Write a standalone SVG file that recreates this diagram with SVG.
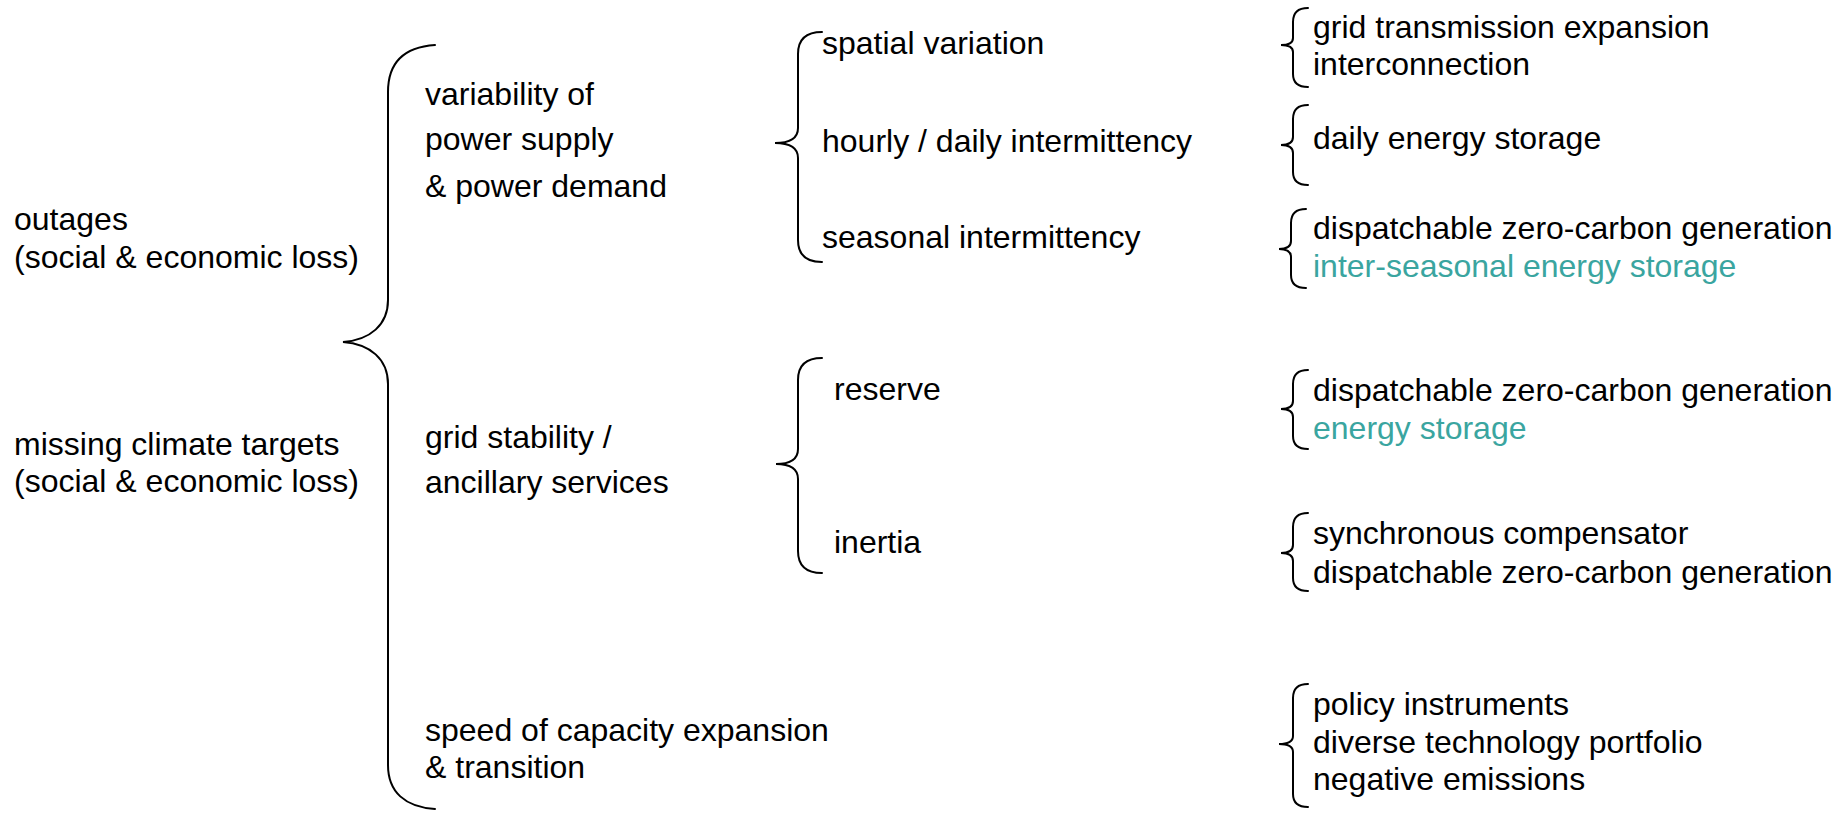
<svg xmlns="http://www.w3.org/2000/svg" width="1847" height="814" viewBox="0 0 1847 814">
  <style>
    text { font-family: "Liberation Sans", Arial, sans-serif; font-size: 32px; fill: #000; }
    .teal { fill: #3aa5a0; }
    .brace { fill: none; stroke: #000; stroke-width: 2; stroke-linecap: round; }
  </style>
  <rect width="1847" height="814" fill="#fff"/>

  <!-- curly braces linking each level to the next -->
  <g id="connectors">
    <path class="brace" d="M435,45 C405,47 388,62 388,92 L388,300 C388,325 370,340 343,342 C370,344 388,359 388,384 L388,765 C388,792 405,807 435,809"/>
    <path class="brace" d="M822,32 C806,32 798,39 798,54 L798,128 C798,138 790,143 775,143 C790,143 798,148 798,158 L798,240 C798,255 806,262 822,262"/>
    <path class="brace" d="M822,358 C806,358 798,365 798,380 L798,449 C798,459 790,464 776,464 C790,464 798,469 798,479 L798,551 C798,566 806,573 822,573"/>
    <path class="brace" d="M1308,8 C1298,8 1293,13 1293,22 L1293,38 C1293,43 1289,45 1281,45 C1289,45 1293,47 1293,52 L1293,74 C1293,83 1298,87 1308,87"/>
    <path class="brace" d="M1308,105 C1298,105 1293,110 1293,119 L1293,137 C1293,142 1289,145 1281,145 C1289,145 1293,148 1293,153 L1293,172 C1293,181 1298,185 1308,185"/>
    <path class="brace" d="M1306,209 C1296,209 1291,214 1291,223 L1291,241 C1291,246 1287,249 1279,249 C1287,249 1291,252 1291,257 L1291,275 C1291,284 1296,288 1306,288"/>
    <path class="brace" d="M1308,370 C1298,370 1293,375 1293,384 L1293,401 C1293,406 1289,409 1281,409 C1289,409 1293,412 1293,417 L1293,436 C1293,445 1298,449 1308,449"/>
    <path class="brace" d="M1308,513 C1298,513 1293,518 1293,527 L1293,545 C1293,550 1289,553 1281,553 C1289,553 1293,556 1293,561 L1293,578 C1293,587 1298,591 1308,591"/>
    <path class="brace" d="M1308,684 C1298,684 1293,689 1293,698 L1293,736 C1293,741 1289,744 1279,744 C1289,744 1293,747 1293,752 L1293,794 C1293,803 1298,807 1308,807"/>
  </g>

  <!-- consequences -->
  <g id="node-outages">
    <text x="14" y="230">outages</text>
    <text x="14" y="268">(social &amp; economic loss)</text>
  </g>
  <g id="node-climate">
    <text x="14" y="455">missing climate targets</text>
    <text x="14" y="492">(social &amp; economic loss)</text>
  </g>

  <!-- challenges -->
  <g id="node-variability">
    <text x="425" y="105">variability of</text>
    <text x="425" y="150">power supply</text>
    <text x="425" y="197">&amp; power demand</text>
  </g>
  <g id="node-stability">
    <text x="425" y="448">grid stability /</text>
    <text x="425" y="493">ancillary services</text>
  </g>
  <g id="node-speed">
    <text x="425" y="741">speed of capacity expansion</text>
    <text x="425" y="778">&amp; transition</text>
  </g>

  <!-- aspects -->
  <g id="node-spatial"><text x="822" y="54">spatial variation</text></g>
  <g id="node-hourly"><text x="822" y="152">hourly / daily intermittency</text></g>
  <g id="node-seasonal"><text x="822" y="248">seasonal intermittency</text></g>
  <g id="node-reserve"><text x="834" y="400">reserve</text></g>
  <g id="node-inertia"><text x="834" y="553">inertia</text></g>

  <!-- solutions -->
  <g id="sol-spatial">
    <text x="1313" y="38">grid transmission expansion</text>
    <text x="1313" y="75">interconnection</text>
  </g>
  <g id="sol-hourly">
    <text x="1313" y="149">daily energy storage</text>
  </g>
  <g id="sol-seasonal">
    <text x="1313" y="239">dispatchable zero-carbon generation</text>
    <text class="teal" x="1313" y="277">inter-seasonal energy storage</text>
  </g>
  <g id="sol-reserve">
    <text x="1313" y="401">dispatchable zero-carbon generation</text>
    <text class="teal" x="1313" y="439">energy storage</text>
  </g>
  <g id="sol-inertia">
    <text x="1313" y="544">synchronous compensator</text>
    <text x="1313" y="583">dispatchable zero-carbon generation</text>
  </g>
  <g id="sol-speed">
    <text x="1313" y="715">policy instruments</text>
    <text x="1313" y="753">diverse technology portfolio</text>
    <text x="1313" y="790">negative emissions</text>
  </g>
</svg>
